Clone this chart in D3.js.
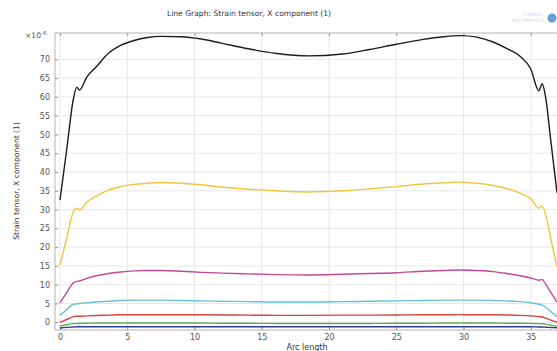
<!DOCTYPE html>
<html>
<head>
<meta charset="utf-8">
<script src="https://cdn.jsdelivr.net/npm/d3@7"></script>
<style>
  html, body { margin: 0; padding: 0; background: #fff; }
  svg { display: block; font-family: "DejaVu Sans", sans-serif; }
</style>
</head>
<body>
<svg id="chart" width="557" height="351"></svg>
<script>
// Arc length sample positions shared by every curve
const arcLength = [0, 0.5, 1.0, 1.25, 1.45, 2.0, 2.7, 3.6, 4.5, 5.5, 6.5, 7.5, 9, 10.5, 12, 14, 16, 18.5,
  21, 23, 25, 27, 28.5, 29.8, 31, 32.2, 33.2, 34.2, 35, 35.6, 35.85, 36.1, 36.5, 36.95];

// Strain tensor, X component (×10^-6), one array per curve
const strainBlack = [32.5, 46.0, 59.5, 62.6, 61.8, 65.3, 68.0, 71.6, 73.7, 75.0, 75.8, 76.1, 76.0, 75.4, 74.3, 72.8, 71.6, 70.9,
  71.4, 72.6, 74.0, 75.3, 76.0, 76.3, 75.9, 74.6, 72.9, 70.8, 67.4, 61.6, 63.5, 60.0, 48.0, 34.5];
const strainYellow = [15.2, 22.4, 29.5, 30.4, 29.9, 32.0, 33.6, 35.2, 36.1, 36.7, 37.0, 37.2, 37.0, 36.6, 36.0, 35.4, 35.0, 34.7,
  35.0, 35.5, 36.1, 36.8, 37.1, 37.3, 37.0, 36.4, 35.6, 34.4, 32.9, 30.4, 31.0, 28.6, 22.1, 14.8];
const strainMagenta = [5.2, 7.9, 10.5, 10.9, 11.0, 11.7, 12.4, 13.0, 13.4, 13.7, 13.8, 13.8, 13.6, 13.3, 13.1, 12.9, 12.7, 12.6,
  12.8, 13.0, 13.2, 13.6, 13.8, 13.9, 13.8, 13.5, 13.0, 12.4, 11.8, 11.2, 11.4, 10.2, 7.9, 5.4];
const strainCyan = [1.9, 3.35, 4.8, 4.9, 5.0, 5.2, 5.4, 5.6, 5.8, 5.9, 5.9, 5.9, 5.8, 5.7, 5.6, 5.5, 5.4, 5.4,
  5.5, 5.6, 5.7, 5.8, 5.9, 5.9, 5.9, 5.8, 5.7, 5.5, 5.2, 4.8, 4.6, 4.0, 2.8, 1.5];
const strainRed = [0.0, 0.75, 1.5, 1.6, 1.6, 1.7, 1.8, 1.9, 2.0, 2.0, 2.0, 2.0, 2.0, 2.0, 1.95, 1.9, 1.85, 1.85,
  1.9, 1.9, 1.95, 2.0, 2.0, 2.05, 2.0, 2.0, 1.95, 1.85, 1.7, 1.5, 1.4, 1.1, 0.58, 0.0];
const strainGreen = [-1.0, -0.65, -0.35, -0.3, -0.3, -0.25, -0.2, -0.2, -0.2, -0.2, -0.2, -0.2, -0.2, -0.2, -0.25, -0.25, -0.3, -0.3,
  -0.3, -0.3, -0.25, -0.25, -0.2, -0.2, -0.2, -0.2, -0.25, -0.25, -0.3, -0.35, -0.4, -0.5, -0.78, -1.1];
const strainBlue = [-1.5, -1.35, -1.25, -1.2, -1.2, -1.2, -1.2, -1.2, -1.2, -1.2, -1.2, -1.2, -1.2, -1.2, -1.2, -1.2, -1.2, -1.2,
  -1.2, -1.2, -1.2, -1.2, -1.2, -1.2, -1.2, -1.2, -1.2, -1.2, -1.2, -1.25, -1.25, -1.3, -1.37, -1.45];

const xTicks = [0, 5, 10, 15, 20, 25, 30, 35];
const yTicks = [0, 5, 10, 15, 20, 25, 30, 35, 40, 45, 50, 55, 60, 65, 70];

const titleText = "Line Graph: Strain tensor, X component (1)";
const xLabel = "Arc length";
const yLabel = "Strain tensor, X component (1)";

const series = [
  { values: strainBlue, color: "#2e3a94" },
  { values: strainGreen, color: "#5fae4c" },
  { values: strainRed, color: "#d8433e" },
  { values: strainCyan, color: "#62c2d6" },
  { values: strainMagenta, color: "#c24a98" },
  { values: strainYellow, color: "#efc53c" },
  { values: strainBlack, color: "#1c1c1c" }
];

const svg = d3.select("#chart");
const plotLeft = 55, plotRight = 557, plotTop = 33, plotBottom = 330;

const x = d3.scaleLinear().domain([-0.37, 36.95]).range([plotLeft, plotRight]);
const y = d3.scaleLinear().domain([-2.05, 77.0]).range([plotBottom, plotTop]);

// grid
const grid = svg.append("g");
grid.selectAll("line.v").data(xTicks).join("line")
  .attr("class", "v")
  .attr("x1", d => x(d)).attr("x2", d => x(d))
  .attr("y1", plotTop).attr("y2", plotBottom)
  .attr("stroke", "#e8e8e8").attr("stroke-width", 1);
grid.selectAll("line.h").data(yTicks).join("line")
  .attr("class", "h")
  .attr("x1", plotLeft).attr("x2", plotRight)
  .attr("y1", d => y(d)).attr("y2", d => y(d))
  .attr("stroke", "#e8e8e8").attr("stroke-width", 1);

// frame
svg.append("path")
  .attr("d", `M${plotRight},${plotTop}H${plotLeft}V${plotBottom}H${plotRight}`)
  .attr("fill", "none").attr("stroke", "#b4b4b4").attr("stroke-width", 1);

// axes with inward ticks
const yAxis = svg.append("g").attr("transform", `translate(${plotLeft},0)`)
  .call(d3.axisLeft(y).tickValues(yTicks).tickSize(-3).tickPadding(5).tickFormat(d3.format("d")));
const xAxis = svg.append("g").attr("transform", `translate(0,${plotBottom})`)
  .call(d3.axisBottom(x).tickValues(xTicks).tickSize(-3).tickPadding(4).tickFormat(d3.format("d")));
const xTop = svg.append("g").attr("transform", `translate(0,${plotTop})`)
  .call(d3.axisTop(x).tickValues(xTicks).tickSize(-3).tickFormat(""));
[yAxis, xAxis, xTop].forEach(g => {
  g.select(".domain").remove();
  g.selectAll(".tick line").attr("stroke", "#999");
  g.selectAll("text").attr("fill", "#555").style("font-size", "8px").style("font-family", "DejaVu Sans, sans-serif");
});

// curves
svg.append("clipPath").attr("id", "plot-clip")
  .append("rect").attr("x", plotLeft).attr("y", plotTop)
  .attr("width", plotRight - plotLeft).attr("height", plotBottom - plotTop);

const line = d3.line()
  .x((d, i) => x(arcLength[i]))
  .y(d => y(d))
  .curve(d3.curveMonotoneX);

svg.append("g").attr("clip-path", "url(#plot-clip)")
  .selectAll("path").data(series).join("path")
  .attr("d", d => line(d.values))
  .attr("fill", "none")
  .attr("stroke", d => d.color)
  .attr("stroke-width", 1.4)
  .attr("stroke-linejoin", "round");

// texts
svg.append("text").attr("x", 249).attr("y", 16).attr("text-anchor", "middle")
  .attr("fill", "#333").style("font-size", "7.6px").text(titleText);
svg.append("text").attr("x", 307).attr("y", 350).attr("text-anchor", "middle")
  .attr("fill", "#333").style("font-size", "8px").text(xLabel);
svg.append("text").attr("transform", "translate(19,181) rotate(-90)").attr("text-anchor", "middle")
  .attr("fill", "#333").style("font-size", "7.6px").text(yLabel);

const exp = svg.append("text").attr("x", 25).attr("y", 38).attr("fill", "#555").style("font-size", "7.6px");
exp.append("tspan").text("×10");
exp.append("tspan").attr("dy", -3).style("font-size", "5.5px").text("-6");

// faint product mark
svg.append("text").attr("x", 532).attr("y", 16).attr("text-anchor", "middle")
  .attr("fill", "#c9d6e6").style("font-size", "4.5px").text("COMSOL");
svg.append("text").attr("x", 528).attr("y", 22).attr("text-anchor", "middle")
  .attr("fill", "#c9d6e6").style("font-size", "4.5px").text("MULTIPHYSICS");
svg.append("circle").attr("cx", 552).attr("cy", 18).attr("r", 4.5).attr("fill", "#4a90c8").attr("opacity", 0.85);
</script>
</body>
</html>
